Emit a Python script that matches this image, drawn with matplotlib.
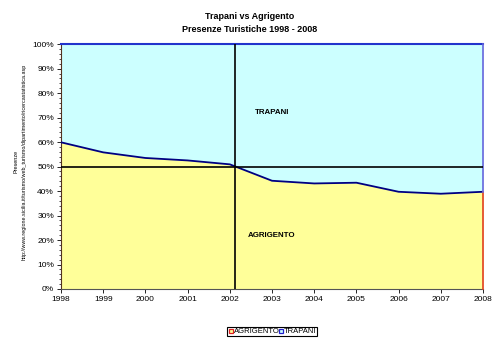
import matplotlib
matplotlib.use("Agg")
import matplotlib.pyplot as plt
import numpy as np
from matplotlib.ticker import MultipleLocator, FuncFormatter
from matplotlib.patches import Rectangle

plt.rcParams["font.family"] = ["Liberation Sans", "DejaVu Sans"]

years = [1998, 1999, 2000, 2001, 2002, 2003, 2004, 2005, 2006, 2007, 2008]
agrigento = [59.9, 55.8, 53.5, 52.5, 50.9, 44.2, 43.1, 43.4, 39.7, 38.9, 39.7]
trapani = [100 - a for a in agrigento]
cross_year = 2002.12
cross_level = 50

fig = plt.figure(figsize=(5, 3.42), dpi=100)
ax = fig.add_axes([0.122, 0.155, 0.844, 0.716])

top = [a + t for a, t in zip(agrigento, trapani)]
ax.fill_between(years, 0, agrigento, color="#FFFF99", lw=0)
ax.fill_between(years, agrigento, top, color="#CCFFFF", lw=0)
ax.plot(years, agrigento, color="#000080", lw=1.3, zorder=3)
ax.plot(years, top, color="#2233CC", lw=1.5, zorder=3, clip_on=False)
ax.plot([years[-1], years[-1]], [0, agrigento[-1]], color="#E04020", lw=1.2, clip_on=False, zorder=4)
ax.plot([years[-1], years[-1]], [agrigento[-1], 100], color="#6666DD", lw=1.2, clip_on=False, zorder=4)

ax.axvline(cross_year, color="black", lw=1.2, zorder=5)
ax.axhline(cross_level, color="black", lw=1.2, zorder=5)

ax.set_xlim(1998, 2008)
ax.set_ylim(0, 100)
ax.set_xticks(years)
ax.set_xticklabels([str(y) for y in years], fontsize=6)
ax.yaxis.set_major_locator(MultipleLocator(10))
ax.yaxis.set_minor_locator(MultipleLocator(2))
ax.yaxis.set_major_formatter(FuncFormatter(lambda v, p: f"{int(v)}%"))
ax.tick_params(axis="y", which="major", labelsize=6, length=3, width=0.6, pad=2)
ax.tick_params(axis="y", which="minor", length=1.5, width=0.5)
ax.tick_params(axis="x", length=3, width=0.6, pad=2)
for s in ["top", "right"]:
    ax.spines[s].set_visible(False)
ax.spines["left"].set_color("#553322")
ax.spines["bottom"].set_color("#555555")
ax.spines["left"].set_linewidth(0.8)
ax.spines["bottom"].set_linewidth(0.8)

ax.text(2003.0, 72.2, "TRAPANI", fontsize=5.7, fontweight="bold", ha="center", va="center")
ax.text(2003.0, 21.8, "AGRIGENTO", fontsize=5.7, fontweight="bold", ha="center", va="center")

fig.text(0.5, 0.951, "Trapani vs Agrigento", fontsize=6.5, fontweight="bold", ha="center", va="center")
fig.text(0.5, 0.915, "Presenze Turistiche 1998 - 2008", fontsize=6.5, fontweight="bold", ha="center", va="center")

fig.text(0.031, 0.527, "Presenze", fontsize=4, rotation=90, ha="center", va="center")
fig.text(0.049, 0.527, "http://www.regione.sicilia.it/turismo/web_turismo/dipartimento/ricercastatistica.asp",
         fontsize=3.9, rotation=90, ha="center", va="center")

# legend
lax = fig.add_axes([0.0, 0.0, 1.0, 1.0], facecolor="none")
lax.set_xlim(0, 500)
lax.set_ylim(342, 0)
lax.axis("off")
lax.add_patch(Rectangle((226.5, 326.5), 90, 9.5, fill=False, ec="black", lw=0.8))
lax.add_patch(Rectangle((228.5, 329.3), 4, 4, fc="#FFFF99", ec="#E02020", lw=0.9))
lax.text(233.5, 331.5, "AGRIGENTO", fontsize=5.5, va="center", ha="left")
lax.add_patch(Rectangle((278.5, 329.3), 4, 4, fc="#CCFFFF", ec="#2020CC", lw=0.9))
lax.text(283.5, 331.5, "TRAPANI", fontsize=5.5, va="center", ha="left")

fig.savefig("out.png", dpi=100)
